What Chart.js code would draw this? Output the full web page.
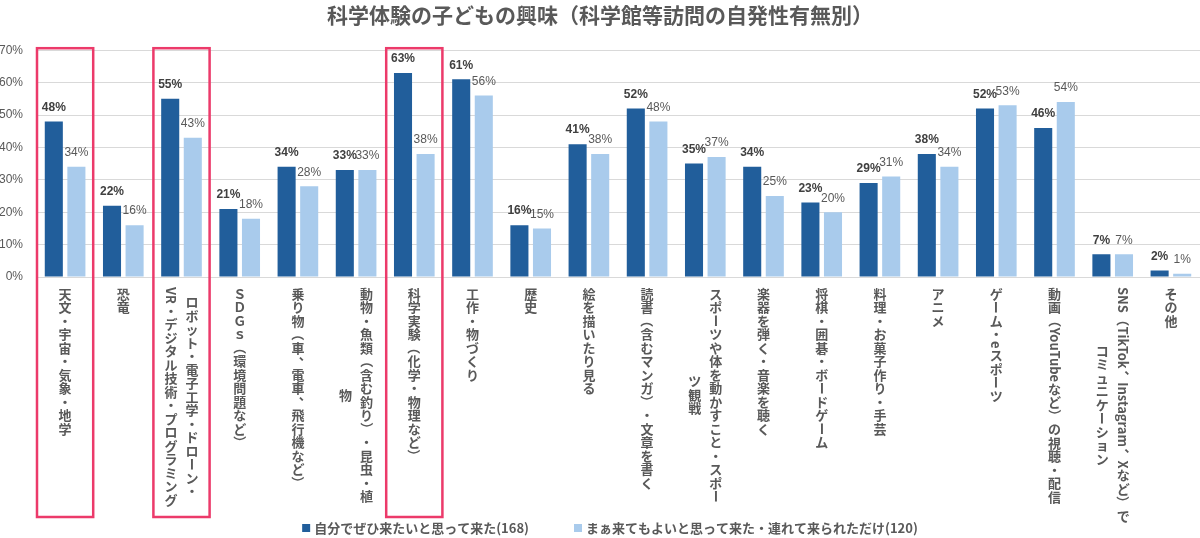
<!DOCTYPE html>
<html lang="ja">
<head>
<meta charset="utf-8">
<title>科学体験の子どもの興味</title>
<script src="https://cdn.jsdelivr.net/npm/chart.js@4.4.1/dist/chart.umd.min.js"></script>
<style>
    html, body { margin: 0; padding: 0; background: #fff; }
    .chart-container { position: relative; width: 1200px; height: 538px; }
</style>
</head>
<body>
<div class="chart-container"><canvas id="chart"></canvas></div>
<script>
const chartTitle = '科学体験の子どもの興味（科学館等訪問の自発性有無別）';

// 縦書きラベル: 配列の各要素が1列（右から左へ）
const categories = [
    ['天文・宇宙・気象・地学'],
    ['恐竜'],
    ['ロボット・電子工学・ドローン・', 'VR・デジタル技術・プログラミング'],
    ['ＳＤＧｓ（環境問題など）'],
    ['乗り物（車、電車、飛行機など）'],
    ['動物・魚類（含む釣り）・昆虫・植', '物'],
    ['科学実験（化学・物理など）'],
    ['工作・物づくり'],
    ['歴史'],
    ['絵を描いたり見る'],
    ['読書（含むマンガ）・文章を書く'],
    ['スポーツや体を動かすこと・スポー', 'ツ観戦'],
    ['楽器を弾く・音楽を聴く'],
    ['将棋・囲碁・ボードゲーム'],
    ['料理・お菓子作り・手芸'],
    ['アニメ'],
    ['ゲーム・eスポーツ'],
    ['動画（YouTubeなど）の視聴・配信'],
    ['SNS（TikTok、Instagram、Xなど）で', 'コミュニケーション'],
    ['その他']
];

const seriesNames = [
    '自分でぜひ来たいと思って来た(168)',
    'まぁ来てもよいと思って来た・連れて来られただけ(120)'
];

const eagerValues  = [48, 22, 55, 21, 34, 33, 63, 61, 16, 41, 52, 35, 34, 23, 29, 38, 52, 46, 7, 2];
const casualValues = [34, 16, 43, 18, 28, 33, 38, 56, 15, 38, 48, 37, 25, 20, 31, 34, 53, 54, 7, 1];

const yMax = 70;
const yStep = 10;

// 赤枠で囲むカテゴリ
const highlighted = [0, 2, 6];

const DARK = '#215E9B';
const LIGHT = '#A9CBEC';
const TEXT = '#595959';
const JP = '"Noto Sans CJK JP", "Noto Sans", sans-serif';
const LATIN = '"Liberation Sans", Arial, sans-serif';

// 縦書きで回転させる文字
const ROTATED = '（）()ー－-〜～…「」『』【】';

const drawVertical = (ctx, text, cx, top, step, dryRun) => {
    let y = top;
    const tokens = text.match(/[A-Za-z0-9 .]+|./gu) || [];
    tokens.forEach(tok => {
        if (/^[A-Za-z0-9 .]+$/.test(tok)) {
            // 英字は横倒し
            const w = ctx.measureText(tok).width;
            if (!dryRun) {
                ctx.save();
                ctx.translate(cx, y);
                ctx.rotate(Math.PI / 2);
                ctx.textAlign = 'left';
                ctx.fillText(tok, 0, 0);
                ctx.restore();
            }
            y += w;
        } else if (ROTATED.includes(tok)) {
            if (!dryRun) {
                ctx.save();
                ctx.translate(cx, y + step / 2);
                ctx.rotate(Math.PI / 2);
                ctx.textAlign = 'center';
                ctx.fillText(tok, 0, 0);
                ctx.restore();
            }
            y += step;
        } else if ('、。'.includes(tok)) {
            if (!dryRun) {
                ctx.textAlign = 'center';
                ctx.fillText(tok, cx + step * 0.55, y + step / 2 - step * 0.55);
            }
            y += step;
        } else {
            if (!dryRun) {
                ctx.textAlign = 'center';
                ctx.fillText(tok, cx, y + step / 2);
            }
            y += step;
        }
    });
    return y - top;
};

const overlayPlugin = {
    id: 'overlay',
    afterDatasetsDraw(chart) {
        const { ctx, chartArea, scales: { x, y } } = chart;

        // 値ラベル
        chart.data.datasets.forEach((ds, di) => {
            const meta = chart.getDatasetMeta(di);
            ctx.save();
            ctx.font = (di === 0 ? 'bold ' : '') + '12px ' + LATIN;
            ctx.fillStyle = di === 0 ? '#404040' : TEXT;
            ctx.textAlign = 'center';
            ctx.textBaseline = 'middle';
            meta.data.forEach((bar, i) => {
                ctx.fillText(ds.data[i] + '%', bar.x, bar.y - 14);
            });
            ctx.restore();
        });

        // 縦書きカテゴリラベル
        const step = 13.5;
        const colGap = 21;
        const labelTop = chartArea.bottom + 10;
        ctx.save();
        ctx.font = 'bold 13px ' + JP;
        ctx.fillStyle = TEXT;
        ctx.textBaseline = 'middle';
        categories.forEach((cols, i) => {
            const cx = x.getPixelForValue(i);
            const lens = cols.map(c => drawVertical(ctx, c, 0, 0, step, true));
            const maxLen = Math.max(...lens);
            cols.forEach((c, ci) => {
                const colX = cx + (cols.length - 1) / 2 * colGap - ci * colGap;
                const top = cols.length > 1 ? labelTop + (maxLen - lens[ci]) / 2 : labelTop;
                drawVertical(ctx, c, colX, top, step, false);
            });
        });
        ctx.restore();

        // 凡例
        const legendY = chart.height - 10;
        ctx.save();
        ctx.font = 'bold 13px ' + JP;
        ctx.textBaseline = 'middle';
        ctx.textAlign = 'left';
        const box = 8, boxGap = 4, between = 45;
        const widths = seriesNames.map(n => box + boxGap + ctx.measureText(n).width);
        let lx = chart.width / 2 + 10 - (widths[0] + widths[1] + between) / 2;
        seriesNames.forEach((n, i) => {
            ctx.fillStyle = i === 0 ? DARK : LIGHT;
            ctx.fillRect(lx, legendY - box / 2, box, box);
            ctx.fillStyle = TEXT;
            ctx.fillText(n, lx + box + boxGap, legendY);
            lx += widths[i] + between;
        });
        ctx.restore();

        // 強調枠
        const boxTop = y.getPixelForValue(yMax) - 2;
        const boxBottom = legendY - 11;
        const half = x.width / categories.length / 2 - 1;
        ctx.save();
        ctx.strokeStyle = '#EC3A6A';
        ctx.lineWidth = 2.5;
        highlighted.forEach(i => {
            const cx = x.getPixelForValue(i);
            ctx.strokeRect(cx - half, boxTop, half * 2, boxBottom - boxTop);
        });
        ctx.restore();
    }
};

const ctx = document.getElementById('chart').getContext('2d');

new Chart(ctx, {
    type: 'bar',
    data: {
        labels: categories.map(c => c.join('')),
        datasets: [
            {
                label: seriesNames[0],
                data: eagerValues,
                backgroundColor: DARK,
                categoryPercentage: 0.776,
                barPercentage: 0.8
            },
            {
                label: seriesNames[1],
                data: casualValues,
                backgroundColor: LIGHT,
                categoryPercentage: 0.776,
                barPercentage: 0.8
            }
        ]
    },
    options: {
        responsive: true,
        maintainAspectRatio: false,
        animation: false,
        layout: { padding: { left: 0, right: 0, top: 0, bottom: 0 } },
        plugins: {
            title: {
                display: true,
                text: chartTitle,
                color: TEXT,
                font: { family: JP, size: 21, weight: 'bold' },
                padding: { top: 2, bottom: 23 }
            },
            legend: { display: false },
            tooltip: { enabled: false }
        },
        scales: {
            x: {
                grid: { display: false },
                border: { display: false },
                ticks: { display: false },
                afterFit: scale => { scale.height = 261; }
            },
            y: {
                min: 0,
                max: yMax,
                ticks: {
                    stepSize: yStep,
                    color: TEXT,
                    padding: 13,
                    font: { family: LATIN, size: 12 },
                    callback: value => value + '%'
                },
                grid: { color: '#D9D9D9', drawTicks: false },
                border: { display: false },
                afterFit: scale => { scale.width = 36; }
            }
        }
    },
    plugins: [overlayPlugin]
});
</script>
</body>
</html>
